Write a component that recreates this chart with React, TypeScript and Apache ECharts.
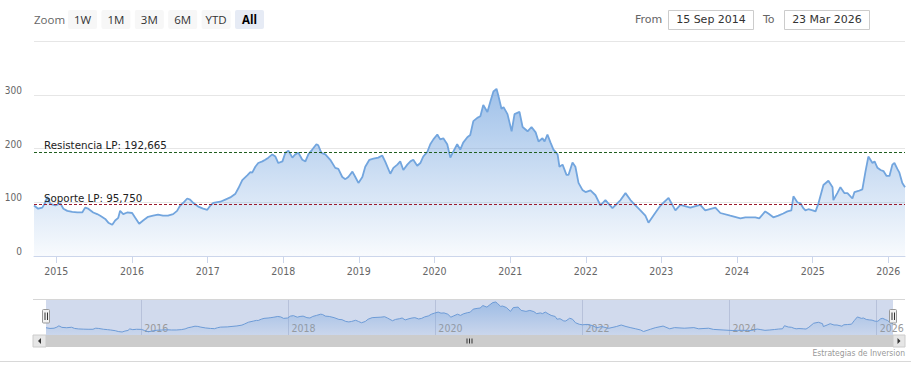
import React, { useEffect, useRef } from "react";
import * as echarts from "echarts";

// ---------- data ----------
const dates: string[] = [
  "2014-09-15","2014-10-05","2014-10-25","2014-11-08","2014-11-18","2014-12-03","2014-12-27",
  "2015-01-20","2015-02-04","2015-02-23","2015-03-19","2015-04-12","2015-05-06","2015-05-20","2015-06-04","2015-06-28","2015-07-17","2015-08-01","2015-08-25","2015-09-09","2015-09-28","2015-10-12","2015-10-27","2015-11-05","2015-11-20","2015-12-09",
  "2016-01-02","2016-01-17","2016-02-05","2016-02-24","2016-03-19","2016-04-12","2016-05-06","2016-05-30","2016-06-23","2016-07-18","2016-08-06","2016-08-21","2016-09-05","2016-09-24","2016-10-08","2016-10-23","2016-11-16","2016-12-10","2016-12-30",
  "2017-01-14","2017-01-28","2017-03-03","2017-03-27","2017-04-20","2017-05-15","2017-05-29","2017-06-17","2017-07-11","2017-07-26","2017-08-04","2017-08-19","2017-09-02","2017-09-22","2017-10-06","2017-10-21","2017-11-09","2017-11-24","2017-12-08","2017-12-28",
  "2018-01-11","2018-01-26","2018-02-14","2018-02-28","2018-03-15","2018-04-03","2018-04-18","2018-05-02","2018-05-21","2018-06-10","2018-06-19","2018-07-04","2018-07-23","2018-08-16","2018-09-09","2018-09-24","2018-10-13","2018-10-28","2018-11-11","2018-12-01","2018-12-15","2018-12-30",
  "2019-01-18","2019-02-01","2019-02-21","2019-03-12","2019-04-05","2019-04-24","2019-05-09","2019-06-02","2019-06-17","2019-07-06","2019-07-20","2019-08-04","2019-08-23","2019-09-07","2019-09-21","2019-10-10","2019-10-25","2019-11-08","2019-11-28","2019-12-12","2019-12-27",
  "2020-01-15","2020-01-29","2020-02-13","2020-03-03","2020-03-18","2020-04-01","2020-04-20","2020-05-05","2020-05-19","2020-06-08","2020-06-22","2020-07-07","2020-07-26","2020-08-10","2020-08-24","2020-09-13","2020-09-27","2020-10-12","2020-10-27","2020-11-05","2020-11-20","2020-11-30","2020-12-19",
  "2021-01-08","2021-01-22","2021-02-15","2021-03-02","2021-03-26","2021-04-14","2021-05-04","2021-05-18","2021-06-06","2021-06-16","2021-06-30","2021-07-15","2021-07-29","2021-08-18","2021-08-27","2021-09-11","2021-09-30","2021-10-10","2021-10-29","2021-11-12","2021-11-27","2021-12-16","2021-12-31",
  "2022-01-24","2022-02-17","2022-03-13","2022-04-06","2022-05-10","2022-06-18","2022-07-12","2022-08-05","2022-08-29","2022-09-22","2022-10-16","2022-10-31","2022-12-04","2022-12-28",
  "2023-02-05","2023-03-10","2023-04-03","2023-05-21","2023-07-08","2023-08-01","2023-09-19","2023-10-13","2023-11-30",
  "2024-01-18","2024-02-11","2024-03-06","2024-03-30","2024-04-18","2024-05-17","2024-06-01","2024-06-25","2024-07-19","2024-08-12","2024-09-01","2024-09-20","2024-09-30","2024-10-19","2024-11-03","2024-11-17","2024-11-27","2024-12-11",
  "2025-01-01","2025-01-15","2025-01-29","2025-02-22","2025-03-18","2025-04-07","2025-04-11","2025-04-30","2025-05-15","2025-06-03","2025-06-18","2025-07-12","2025-07-22","2025-08-10","2025-08-29","2025-09-13","2025-09-27","2025-10-17","2025-10-27","2025-11-10","2025-11-25","2025-12-09","2025-12-24",
  "2026-01-07","2026-01-21","2026-01-31","2026-02-14","2026-02-24","2026-03-10","2026-03-23",
];
const values: number[] = [
  94,88,90,99,110,97,94,
  98,88,84,82,81,81,90,88,81,78,75,69,62,58,66,71,84,78,81,
  80,71,60,66,73,75,77,75,75,78,84,94,99,107,105,99,92,88,86,
  94,99,101,105,109,116,126,141,150,156,155,166,173,176,179,183,189,185,173,176,
  192,196,183,189,192,179,176,189,198,208,206,192,189,179,164,162,147,143,147,157,147,136,
  147,166,179,181,183,187,175,153,164,170,176,160,170,176,179,168,173,185,194,208,217,
  226,217,219,208,183,194,208,198,211,221,225,251,257,260,281,268,287,306,311,298,274,277,264,
  232,264,268,240,232,240,230,213,219,213,226,211,198,189,166,170,151,151,174,166,136,123,119,
  122,113,94,104,89,104,117,104,94,85,75,62,81,94,
  108,85,95,90,95,85,90,80,75,
  70,72,72,72,70,83,79,72,75,79,83,85,111,100,98,89,85,87,
  85,83,98,132,140,128,104,117,128,117,117,107,119,121,124,157,185,173,176,164,160,158,149,
  149,170,173,162,155,136,128,
];

const levelNames: string[] = ["Resistencia LP", "Soporte LP"];
const levelValues: number[] = [192.665, 95.75];

const yTicks: number[] = [0, 100, 200, 300, 400];
const yearTicks: number[] = [2015, 2016, 2017, 2018, 2019, 2020, 2021, 2022, 2023, 2024, 2025, 2026];
const navYearTicks: number[] = [2016, 2018, 2020, 2022, 2024, 2026];

const zoomButtons: string[] = ["1W", "1M", "3M", "6M", "YTD", "All"];
const selectedButton = "All";
const rangeFromText = "15 Sep 2014";
const rangeToText = "23 Mar 2026";
const rangeStart = "2014-09-15";
const rangeEnd = "2026-03-23";
const creditsText = "Estrategias de Inversion";

// ---------- helpers ----------
const ts = (s: string) => {
  const [y, m, d] = s.split("-").map(Number);
  return Date.UTC(y, m - 1, d);
};
const yearTs = (y: number) => Date.UTC(y, 0, 1);
const fmtLevel = (v: number) => v.toFixed(3).replace(".", ",");
const yearOf = (v: number) => String(new Date(v).getUTCFullYear());

const W = 911;
const H = 384;

export default function App() {
  const ref = useRef<HTMLDivElement>(null);

  useEffect(() => {
    if (!ref.current) return;
    const chart = echarts.init(ref.current, undefined, { renderer: "svg" });
    const seriesData = dates.map((d, i) => [ts(d), values[i]]);
    const levelColors = ["#1f5f1f", "#9b1b2e"];

    const graphics: any[] = [];
    // Range selector
    graphics.push({
      type: "text",
      x: 34, y: 19.5,
      style: { text: "Zoom", fill: "#666", fontSize: 11.5, fontFamily: "Open Sans, sans-serif", textVerticalAlign: "middle" },
    });
    zoomButtons.forEach((b, i) => {
      const x = 68 + i * 33.4;
      const sel = b === selectedButton;
      graphics.push({
        type: "rect",
        shape: { x, y: 10, width: 29, height: 19, r: 2 },
        style: { fill: sel ? "#e6ebf5" : "#f7f7f7", stroke: "none" },
      });
      graphics.push({
        type: "text",
        x: x + 14.5, y: 19.5,
        style: {
          text: b, fill: sel ? "#000" : "#333", fontSize: 11.5,
          fontWeight: sel ? "bold" : "normal",
          fontFamily: "Open Sans, sans-serif", textAlign: "center", textVerticalAlign: "middle",
        },
      });
    });
    graphics.push({
      type: "text", x: 635, y: 19.5,
      style: { text: "From", fill: "#666", fontSize: 11, fontFamily: "DejaVu Sans, sans-serif", textVerticalAlign: "middle" },
    });
    graphics.push({
      type: "rect", shape: { x: 668.5, y: 10.5, width: 85, height: 19 },
      style: { fill: "#fff", stroke: "#cccccc", lineWidth: 1 },
    });
    graphics.push({
      type: "text", x: 711, y: 19.5,
      style: { text: rangeFromText, fill: "#333", fontSize: 11, fontFamily: "DejaVu Sans, sans-serif", textAlign: "center", textVerticalAlign: "middle" },
    });
    graphics.push({
      type: "text", x: 763, y: 19.5,
      style: { text: "To", fill: "#666", fontSize: 11, fontFamily: "DejaVu Sans, sans-serif", textVerticalAlign: "middle" },
    });
    graphics.push({
      type: "rect", shape: { x: 784.5, y: 10.5, width: 85, height: 19 },
      style: { fill: "#fff", stroke: "#cccccc", lineWidth: 1 },
    });
    graphics.push({
      type: "text", x: 827, y: 19.5,
      style: { text: rangeToText, fill: "#333", fontSize: 11, fontFamily: "DejaVu Sans, sans-serif", textAlign: "center", textVerticalAlign: "middle" },
    });

    // Navigator outline top
    graphics.push({
      type: "line", shape: { x1: 33, y1: 299.5, x2: 905, y2: 299.5 },
      style: { stroke: "#d6d6d6", lineWidth: 1 }, z: 10,
    });
    // Handles
    [46, 893].forEach((cx) => {
      graphics.push({
        type: "rect", shape: { x: cx - 3.5, y: 309.5, width: 7, height: 13.5, r: 1 },
        style: { fill: "#f2f2f2", stroke: "#999999", lineWidth: 1 }, z: 20,
      });
      graphics.push({
        type: "line", shape: { x1: cx - 1, y1: 312.5, x2: cx - 1, y2: 320 },
        style: { stroke: "#333", lineWidth: 1 }, z: 21,
      });
      graphics.push({
        type: "line", shape: { x1: cx + 1.5, y1: 312.5, x2: cx + 1.5, y2: 320 },
        style: { stroke: "#333", lineWidth: 1 }, z: 21,
      });
    });
    // Scrollbar
    graphics.push({
      type: "rect", shape: { x: 33, y: 335, width: 872, height: 12 },
      style: { fill: "#f2f2f2", stroke: "none" }, z: 10,
    });
    graphics.push({
      type: "rect", shape: { x: 46, y: 335, width: 847, height: 12 },
      style: { fill: "#cccccc", stroke: "none" }, z: 11,
    });
    graphics.push({
      type: "rect", shape: { x: 33, y: 335, width: 13, height: 12 },
      style: { fill: "#e6e6e6", stroke: "#cccccc", lineWidth: 1 }, z: 11,
    });
    graphics.push({
      type: "rect", shape: { x: 893, y: 335, width: 12, height: 12 },
      style: { fill: "#e6e6e6", stroke: "#cccccc", lineWidth: 1 }, z: 11,
    });
    graphics.push({
      type: "polygon", shape: { points: [[38, 341], [41, 338], [41, 344]] },
      style: { fill: "#333" }, z: 12,
    });
    graphics.push({
      type: "polygon", shape: { points: [[900.5, 341], [897.5, 338], [897.5, 344]] },
      style: { fill: "#333" }, z: 12,
    });
    [467, 469.5, 472].forEach((gx) => {
      graphics.push({
        type: "line", shape: { x1: gx, y1: 338.5, x2: gx, y2: 343.5 },
        style: { stroke: "#333", lineWidth: 1 }, z: 12,
      });
    });
    // Credits
    graphics.push({
      type: "text", x: 905, y: 353,
      style: { text: creditsText, fill: "#999", fontSize: 8.5, fontFamily: "DejaVu Sans Condensed, sans-serif", textAlign: "right", textVerticalAlign: "middle" },
    });
    // Bottom separator
    graphics.push({
      type: "line", shape: { x1: 0, y1: 361.5, x2: 911, y2: 361.5 },
      style: { stroke: "#d8d8d8", lineWidth: 1 },
    });

    const option: any = {
      animation: false,
      backgroundColor: "#ffffff",
      grid: [
        { left: 34, right: 6, top: 41, bottom: 128, containLabel: false },
        {
          left: 46, right: 18, top: 299, bottom: 49, containLabel: false,
          show: true, backgroundColor: "rgba(102,133,194,0.3)", borderWidth: 0,
        },
      ],
      xAxis: [
        {
          type: "value", gridIndex: 0,
          min: ts(rangeStart), max: ts(rangeEnd),
          axisLine: { show: true, lineStyle: { color: "#ccd6eb", width: 1 } },
          axisTick: {
            show: true, length: 7, lineStyle: { color: "#ccd6eb" },
            customValues: yearTicks.map(yearTs),
          },
          axisLabel: {
            customValues: yearTicks.map(yearTs),
            formatter: (v: number) => yearOf(v),
            color: "#666", fontSize: 10.5, fontFamily: "DejaVu Sans Condensed, sans-serif",
            margin: 9,
          },
          splitLine: { show: false },
        },
        {
          type: "value", gridIndex: 1,
          min: ts(rangeStart), max: ts(rangeEnd),
          axisLine: { show: false },
          axisTick: {
            show: true, inside: true, length: 36,
            lineStyle: { color: "#b7c1da", width: 1 },
            customValues: navYearTicks.map(yearTs),
          },
          axisLabel: {
            inside: true,
            customValues: navYearTicks.map(yearTs),
            formatter: (v: number) => yearOf(v),
            color: "#999", fontSize: 10.5, fontFamily: "DejaVu Sans Condensed, sans-serif",
            align: "left", padding: [0, 0, 0, 3], margin: 2,
          },
          splitLine: { show: false },
        },
      ],
      yAxis: [
        {
          type: "value", gridIndex: 0,
          min: yTicks[0], max: yTicks[yTicks.length - 1], interval: 100,
          axisLine: { show: false },
          axisTick: { show: false },
          splitLine: { show: true, lineStyle: { color: "#e6e6e6", width: 1 } },
          axisLabel: {
            showMaxLabel: false,
            color: "#666", fontSize: 10, fontFamily: "DejaVu Sans Condensed, sans-serif",
            margin: 12, verticalAlign: "bottom", lineHeight: 9,
          },
        },
        {
          type: "value", gridIndex: 1, show: false,
          min: (e: any) => e.min - 0.1 * (e.max - e.min),
          max: (e: any) => e.max + 0.1 * (e.max - e.min),
          splitLine: { show: false },
        },
      ],
      series: [
        {
          type: "line",
          xAxisIndex: 0, yAxisIndex: 0,
          data: seriesData,
          symbol: "none",
          lineStyle: { color: "#72a5de", width: 1.8 },
          areaStyle: {
            color: new echarts.graphic.LinearGradient(0, 0, 0, 1, [
              { offset: 0, color: "rgba(112,162,222,0.95)" },
              { offset: 1, color: "rgba(112,162,222,0.07)" },
            ]),
          },
          markLine: {
            silent: true,
            symbol: "none",
            animation: false,
            precision: 3,
            data: levelValues.map((v, i) => ({
              yAxis: v,
              name: levelNames[i],
              lineStyle: { color: levelColors[i], type: [3, 2], width: 1 },
            })),
            label: {
              show: true,
              position: "insideStartTop",
              formatter: (p: any) => `${p.name}: ${fmtLevel(levelValues[p.dataIndex])}`,
              color: "#222", fontSize: 10.3, fontFamily: "DejaVu Sans, sans-serif",
              distance: [10, 2],
            },
          },
        },
        {
          type: "line",
          xAxisIndex: 1, yAxisIndex: 1,
          data: seriesData,
          symbol: "none",
          lineStyle: { color: "#6d9bd6", width: 1 },
          areaStyle: {
            color: new echarts.graphic.LinearGradient(0, 0, 0, 1, [
              { offset: 0, color: "rgba(112,162,222,0.75)" },
              { offset: 1, color: "rgba(112,162,222,0.1)" },
            ]),
          },
        },
      ],
      graphic: graphics,
    };
    chart.setOption(option);
    return () => chart.dispose();
  }, []);

  return (
    <div
      ref={ref}
      style={{ position: "fixed", left: 0, top: 0, width: W, height: H, background: "#fff" }}
    />
  );
}
